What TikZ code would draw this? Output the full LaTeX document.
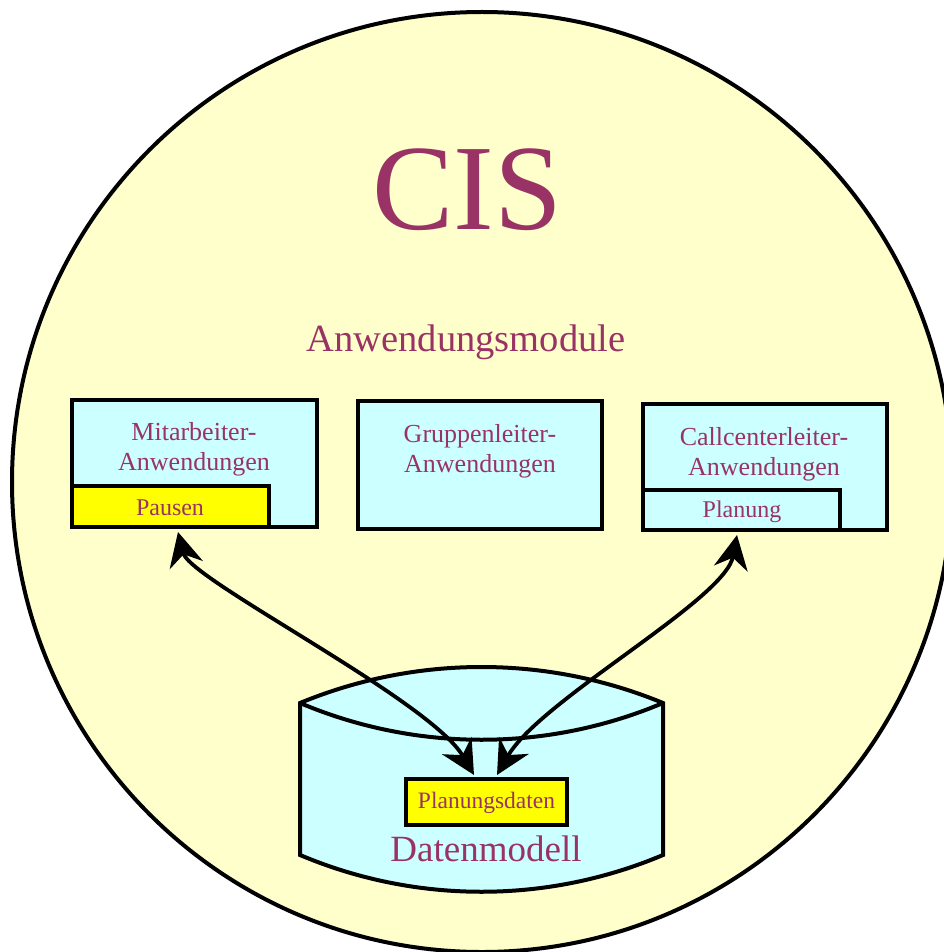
\documentclass[tikz,border=0pt]{standalone}
\usepackage{fontspec}
\setmainfont{Liberation Serif}
\usetikzlibrary{arrows.meta}
\definecolor{txt}{RGB}{153,51,102}
\definecolor{bg}{RGB}{255,255,204}
\definecolor{cyanbox}{RGB}{204,255,255}
\definecolor{yel}{RGB}{255,255,0}
\tikzset{
  outl/.style={draw=black, line width=4pt},
  appbox/.style={outl, fill=cyanbox, rectangle, inner sep=0pt},
  subbox/.style={outl, rectangle, inner sep=0pt},
  lbl/.style={text=txt, align=center, inner sep=0pt, font=\fontsize{26}{30}\selectfont},
  conn/.style={line width=3.8pt, {Stealth[length=34pt,width=34pt,inset=11pt]}-{Stealth[length=34pt,width=34pt,inset=11pt]}}
}
\begin{document}
\begin{tikzpicture}[x=1pt,y=-1pt]
\useasboundingbox (0,0) rectangle (943,952);
% outer circle
\node[outl, fill=bg, circle, minimum size=940pt, inner sep=0pt] (cis) at (482,482) {};
\node[text=txt, inner sep=0pt, font=\fontsize{122}{122}\selectfont] (cistitle) at (467,190) {CIS};
\node[text=txt, inner sep=0pt, font=\fontsize{38.5}{40}\selectfont] (module) at (466,342) {Anwendungsmodule};
% application boxes
\node[appbox, minimum width=245pt, minimum height=127pt] (mit) at (194.5,463.5) {};
\node[subbox, fill=yel, minimum width=197pt, minimum height=41pt] (pausen) at (170.5,506.5) {};
\node[lbl] (mittxt) at (194,449) {Mitarbeiter-\\Anwendungen};
\node[text=txt, inner sep=0pt, font=\fontsize{24}{24}\selectfont] (pausentxt) at (170,508) {Pausen};
\node[appbox, minimum width=244pt, minimum height=128pt] (grp) at (480,465) {};
\node[lbl] (grptxt) at (480,451) {Gruppenleiter-\\Anwendungen};
\node[appbox, minimum width=244pt, minimum height=126pt] (cc) at (765,467) {};
\node[subbox, fill=cyanbox, minimum width=197pt, minimum height=40pt] (plan) at (741.5,510) {};
\node[lbl] (cctxt) at (764,454) {Callcenterleiter-\\Anwendungen};
\node[text=txt, inner sep=0pt, font=\fontsize{24}{24}\selectfont] (plantxt) at (742,512) {Planung};
% database cylinder
\path[outl, fill=cyanbox] (300,703) .. controls (416,655) and (547,655) .. (663,703)
  -- (663,855) .. controls (547,904) and (416,904) .. (300,855) -- cycle;
\draw[outl] (663,703) .. controls (547,752) and (416,752) .. (300,703);
\node[subbox, fill=yel, minimum width=161pt, minimum height=46pt] (pdaten) at (486.5,802) {};
\node[text=txt, inner sep=0pt, font=\fontsize{23.5}{24}\selectfont] (pdatentxt) at (486.5,803) {Planungsdaten};
\node[text=txt, inner sep=0pt, font=\fontsize{37}{38}\selectfont] (dm) at (486,849) {Datenmodell};
% connectors
\coordinate (pa) at ([xshift=7.5pt,yshift=-3pt]pausen.south);
\coordinate (pl) at ([xshift=-4.5pt,yshift=-3pt]plan.south);
\coordinate (dl) at ([xshift=-12.5pt,yshift=2pt]pdaten.north);
\coordinate (dr) at ([xshift=10.5pt,yshift=2pt]pdaten.north);
\draw[conn] (pa) .. controls (190,580) and (430,700) .. (dl);
\draw[conn] (pl) .. controls (725,600) and (540,700) .. (dr);
\end{tikzpicture}
\end{document}
